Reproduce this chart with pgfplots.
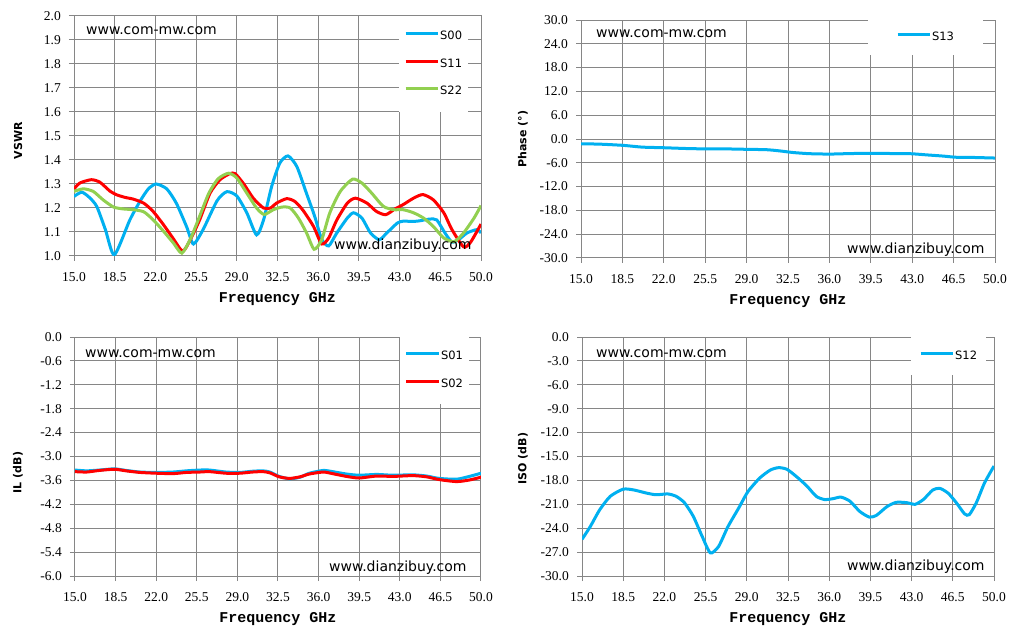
\documentclass[border=0pt]{standalone}
\usepackage{fontspec}
\usepackage{pgfplots}
\pgfplotsset{compat=1.18}
\setmainfont{DejaVu Sans}
\newfontfamily\tickfont{Liberation Serif}
\newfontfamily\freqfont{Liberation Mono}
\definecolor{sblue}{HTML}{00B0F0}
\definecolor{sred}{HTML}{FF0000}
\definecolor{sgreen}{HTML}{92D050}
\definecolor{gridgray}{HTML}{868686}
\pgfplotsset{
  panel/.style={
    scale only axis, anchor=south west,
    xmin=15, xmax=50,
    xtick={15,18.5,22,25.5,29,32.5,36,39.5,43,46.5,50},
    grid=major,
    major grid style={draw=gridgray, line width=1pt},
    axis line style={draw=gridgray, line width=1pt},
    every tick/.style={draw=gridgray, line width=1pt},
    tick align=outside, major tick length=5pt, tick pos=left,
    scaled ticks=false,
    ticklabel style={font=\tickfont\fontsize{13.5}{13.5}\selectfont},
    xticklabel style={inner sep=1pt, yshift=-10pt},
    yticklabel style={inner sep=1pt, xshift=-7pt},
    xlabel={Frequency GHz},
    xlabel style={font=\freqfont\bfseries\fontsize{15}{15}\selectfont, at={(rel axis cs:0.5,0)}, anchor=center, yshift=-43pt},
    ylabel style={font=\bfseries\fontsize{11}{11}\selectfont, at={(rel axis cs:0,0.5)}, anchor=center},
    /pgf/number format/fixed, /pgf/number format/fixed zerofill,
    /pgf/number format/precision=1, /pgf/number format/assume math mode=true,
    legend image code/.code={\draw[#1] (0pt,3pt) -- (32pt,3pt);},
    legend style={draw=none, fill=white, font=\fontsize{11.5}{11.5}\selectfont,
      nodes={inner xsep=1pt, inner ysep=0pt, text height=8.5pt, text depth=2.5pt},
      row sep=16.5pt, inner xsep=5pt, inner ysep=14pt, anchor=north west, legend cell align=left},
    every axis plot/.append style={line width=3pt, smooth, tension=0.4},
  }
}
\begin{document}
\begin{tikzpicture}[x=1pt,y=1pt]
\fill[white] (0,0) rectangle (1021,638);
\useasboundingbox (0,0) rectangle (1021,638);

% ---------------- VSWR
\begin{axis}[panel, at={(74pt,382pt)}, width=407pt, height=240pt,
  ymin=1, ymax=2, ytick={1,1.1,...,2.01},
  ylabel={VSWR}, ylabel style={yshift=56pt, xshift=-4.5pt},
  legend style={at={(0.7985,1)}, inner ysep=15pt}]
\addplot[sblue] coordinates {(15,1.248) (15.66,1.266) (16.3,1.245) (16.95,1.207) (17.7,1.11) (18.47,1.005) (19.8,1.15) (20.7,1.23) (21.4,1.28) (22.06,1.30) (22.97,1.28) (23.8,1.22) (24.7,1.12) (25.27,1.05) (26.1,1.11) (27.3,1.23) (28.14,1.268) (29.0,1.25) (29.86,1.18) (30.7,1.088) (31.3,1.15) (32.0,1.29) (32.7,1.387) (33.4,1.417) (34.16,1.373) (35.0,1.26) (35.7,1.165) (36.3,1.07) (36.9,1.042) (37.6,1.096) (38.5,1.158) (39.04,1.18) (39.76,1.158) (40.5,1.096) (41.25,1.068) (41.9,1.096) (42.8,1.137) (43.3,1.145) (44.2,1.144) (44.78,1.147) (45.6,1.154) (46.2,1.15) (46.9,1.096) (47.5,1.058) (48.07,1.068) (48.8,1.096) (49.65,1.11) (50,1.096)};
\addlegendentry{S00}
\addplot[sred] coordinates {(15,1.279) (15.5,1.304) (16.5,1.318) (17.24,1.307) (18.1,1.27) (18.67,1.255) (19.4,1.244) (20.1,1.237) (21.0,1.22) (21.8,1.186) (22.7,1.13) (23.5,1.075) (24.35,1.02) (25.0,1.068) (25.8,1.15) (26.7,1.262) (27.56,1.318) (28.4,1.343) (28.86,1.343) (29.6,1.30) (30.43,1.24) (31.3,1.20) (31.9,1.20) (32.4,1.22) (33.3,1.239) (34.0,1.227) (34.7,1.19) (35.6,1.123) (36.3,1.05) (36.9,1.075) (37.6,1.15) (38.5,1.22) (39.2,1.241) (40.2,1.22) (41.0,1.186) (41.8,1.172) (42.6,1.196) (43.3,1.214) (44.2,1.241) (45.0,1.256) (45.9,1.234) (46.8,1.18) (47.5,1.11) (48.5,1.038) (49.1,1.057) (50,1.133)};
\addlegendentry{S11}
\addplot[sgreen] coordinates {(15,1.269) (15.8,1.28) (16.66,1.269) (17.5,1.234) (18.4,1.204) (19.25,1.196) (20.1,1.193) (21.0,1.184) (21.8,1.151) (22.7,1.103) (23.55,1.054) (24.27,1.012) (25.0,1.07) (25.8,1.165) (26.6,1.262) (27.4,1.322) (28.3,1.345) (29.0,1.325) (29.86,1.262) (30.7,1.20) (31.35,1.173) (32.15,1.193) (32.9,1.204) (33.6,1.20) (34.3,1.158) (35.0,1.096) (35.65,1.028) (36.3,1.068) (37.0,1.18) (37.9,1.269) (38.95,1.32) (39.76,1.304) (40.6,1.262) (41.6,1.207) (42.5,1.193) (43.3,1.193) (44.2,1.18) (45.06,1.158) (45.9,1.123) (46.8,1.075) (47.7,1.06) (48.5,1.096) (49.4,1.158) (50,1.21)};
\addlegendentry{S22}
\end{axis}

% ---------------- Phase
\begin{axis}[panel, at={(581pt,380pt)}, width=414pt, height=238pt,
  ymin=-30, ymax=30, ytick={-30,-24,...,30},
  ylabel={Phase (°)}, ylabel style={yshift=58pt},
  legend style={at={(0.693,1)}, inner ysep=12pt, inner xsep=28pt}]
\addplot[sblue] coordinates {(15,-1.2) (16.6,-1.3) (18.55,-1.6) (20.2,-2.05) (22.0,-2.2) (23.9,-2.4) (25.6,-2.5) (27.3,-2.5) (29.0,-2.6) (30.7,-2.7) (31.8,-3.0) (32.9,-3.4) (34.3,-3.7) (36.0,-3.8) (37.4,-3.7) (39.1,-3.6) (40.8,-3.65) (42.8,-3.7) (44.2,-4.0) (45.6,-4.3) (46.7,-4.6) (48.1,-4.65) (50,-4.8)};
\addlegendentry{S13}
\end{axis}

% ---------------- IL
\begin{axis}[panel, at={(75pt,62pt)}, width=406pt, height=239pt,
  ymin=-6, ymax=0, ytick={-6,-5.4,-4.8,-4.2,-3.6,-3,-2.4,-1.8,-1.2,-0.6,0},
  ylabel={IL (dB)}, ylabel style={yshift=57pt, xshift=-16pt},
  legend style={at={(0.80,1)}, inner ysep=14pt}]
\addplot[sblue] coordinates {(15,-3.34) (16.0,-3.36) (17.1,-3.34) (18.4,-3.31) (19.4,-3.35) (20.6,-3.39) (22.0,-3.40) (23.45,-3.39) (24.6,-3.36) (25.75,-3.34) (26.6,-3.34) (28.0,-3.39) (29.2,-3.40) (30.3,-3.37) (31.2,-3.36) (31.8,-3.39) (32.6,-3.50) (33.5,-3.56) (34.4,-3.52) (35.2,-3.42) (36.4,-3.35) (37.2,-3.38) (38.4,-3.44) (39.5,-3.47) (41.0,-3.45) (42.4,-3.47) (44.1,-3.46) (45.3,-3.49) (46.4,-3.55) (47.9,-3.57) (49.0,-3.50) (50,-3.42)};
\addlegendentry{S01}
\addplot[sred] coordinates {(15,-3.38) (16.0,-3.39) (17.1,-3.35) (18.4,-3.32) (19.4,-3.36) (20.6,-3.40) (22.0,-3.42) (23.45,-3.43) (24.6,-3.40) (25.75,-3.39) (26.6,-3.38) (28.0,-3.42) (29.2,-3.42) (30.3,-3.39) (31.2,-3.38) (31.8,-3.41) (32.6,-3.51) (33.5,-3.55) (34.4,-3.51) (35.2,-3.44) (36.4,-3.39) (37.2,-3.43) (38.4,-3.50) (39.5,-3.54) (41.0,-3.49) (42.4,-3.50) (44.1,-3.48) (45.3,-3.51) (46.4,-3.58) (47.9,-3.63) (49.0,-3.59) (50,-3.52)};
\addlegendentry{S02}
\end{axis}

% ---------------- ISO
\begin{axis}[panel, at={(582pt,62pt)}, width=412pt, height=239pt,
  ymin=-30, ymax=0, ytick={-30,-27,...,0},
  ylabel={ISO (dB)}, ylabel style={yshift=59pt, xshift=-2pt},
  legend style={at={(0.7985,1)}, inner ysep=13.5pt, inner xsep=8pt}]
\addplot[sblue] coordinates {(15,-25.4) (15.7,-23.8) (16.5,-21.7) (17.4,-20.0) (18.5,-19.1) (19.4,-19.2) (20.5,-19.6) (21.3,-19.8) (22.3,-19.7) (23.0,-20.0) (23.7,-20.8) (24.45,-22.5) (25.2,-25.0) (25.9,-27.1) (26.6,-26.3) (27.4,-23.8) (28.3,-21.5) (29.1,-19.4) (30.1,-17.7) (31.0,-16.7) (31.7,-16.4) (32.4,-16.6) (33.2,-17.5) (34.1,-18.7) (34.9,-20.0) (35.6,-20.4) (36.3,-20.3) (37.0,-20.1) (37.75,-20.6) (38.6,-21.9) (39.4,-22.6) (40.0,-22.4) (40.9,-21.3) (41.7,-20.75) (42.6,-20.8) (43.3,-21.0) (44.0,-20.4) (44.8,-19.2) (45.4,-19.0) (46.1,-19.6) (46.8,-20.8) (47.5,-22.2) (47.9,-22.3) (48.5,-20.8) (49.2,-18.3) (50,-16.2)};
\addlegendentry{S12}
\end{axis}

% ---------------- watermarks
\begin{scope}[every node/.style={font=\fontsize{14}{14}\selectfont, inner sep=0pt, anchor=base west}]
\node at (86,603.5) {www.com-mw.com};
\node at (596,600.7) {www.com-mw.com};
\node at (85,280.7) {www.com-mw.com};
\node at (596,280.7) {www.com-mw.com};
\node at (334,388) {www.dianzibuy.com};
\node at (847,384.7) {www.dianzibuy.com};
\node at (329,66.3) {www.dianzibuy.com};
\node at (847,67) {www.dianzibuy.com};
\end{scope}
\end{tikzpicture}
\end{document}
